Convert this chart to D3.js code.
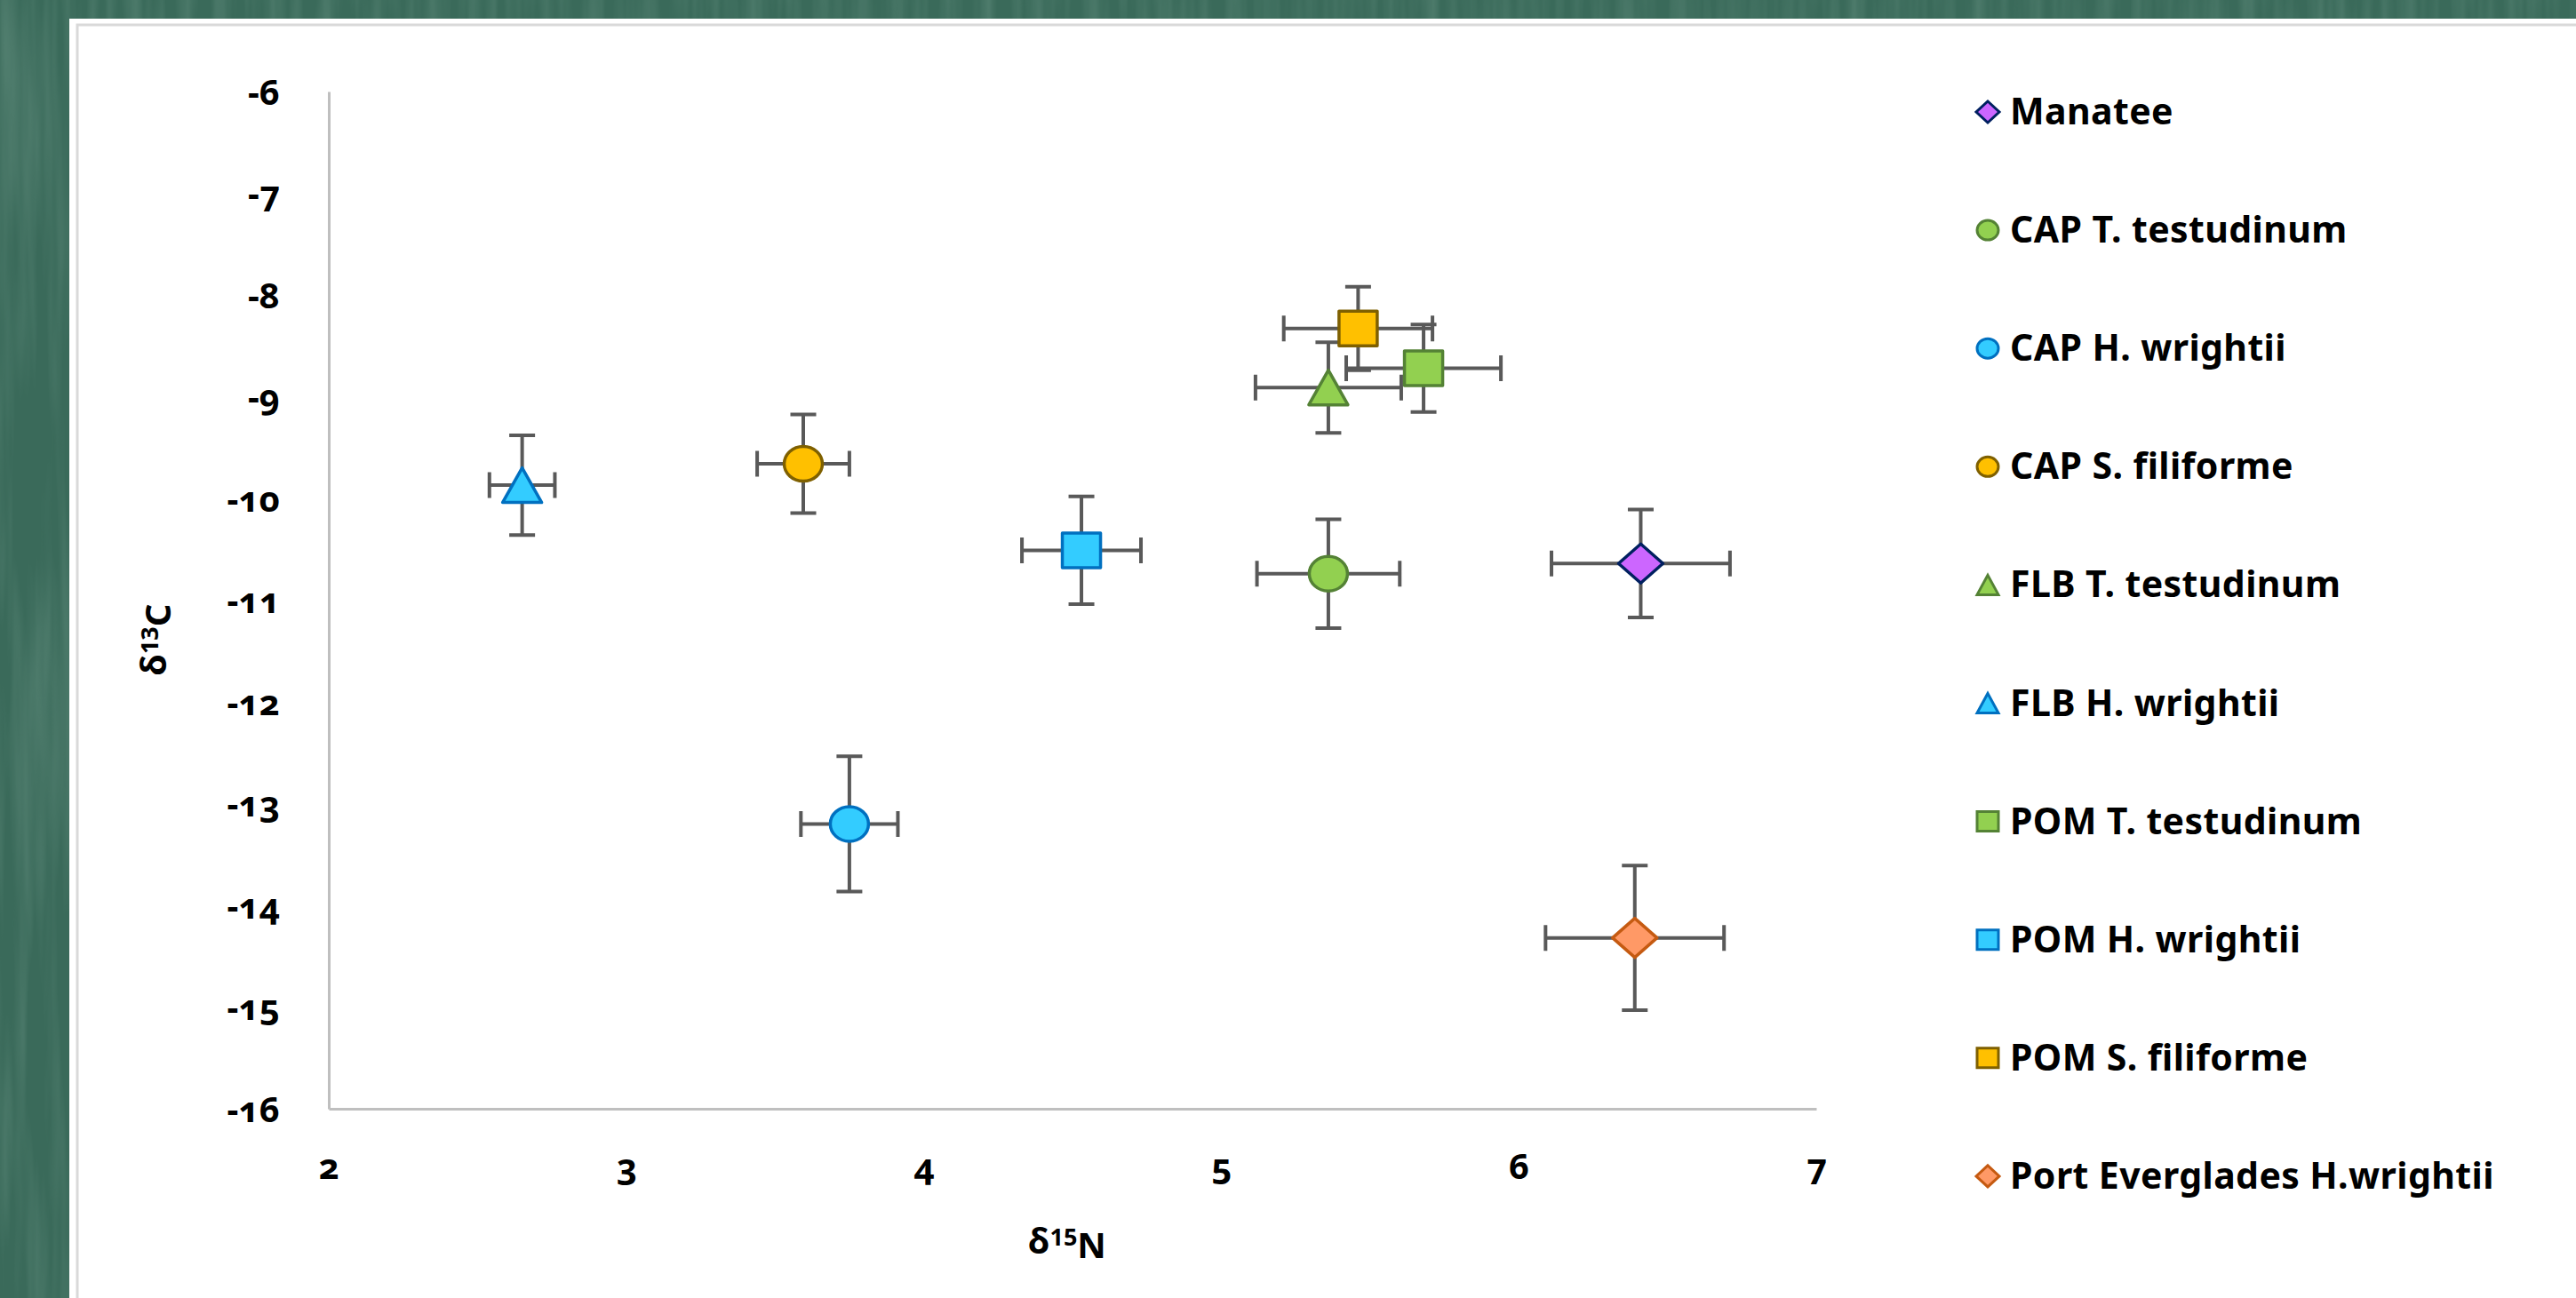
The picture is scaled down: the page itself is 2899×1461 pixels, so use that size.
<!DOCTYPE html>
<html>
<head>
<meta charset="utf-8">
<script src="https://cdn.jsdelivr.net/npm/d3@7"></script>
<style>
body { margin: 0; background: #3b6a5b; }
svg text { font-family: "Noto Sans", sans-serif; font-weight: bold; fill: #000; }
.tick text { font-feature-settings: "onum"; }
</style>
</head>
<body>
<svg id="chart" width="2899" height="1461"></svg>
<script>
// series
var names = ["Manatee", "CAP T. testudinum", "CAP H. wrightii", "CAP S. filiforme",
             "FLB T. testudinum", "FLB H. wrightii", "POM T. testudinum", "POM H. wrightii",
             "POM S. filiforme", "Port Everglades H.wrightii"];
var d15N   = [6.41, 5.36, 3.75, 3.595, 5.36, 2.65, 5.68, 4.53, 5.46, 6.39];
var d13C   = [-10.64, -10.74, -13.20, -9.66, -8.91, -9.87, -8.72, -10.51, -8.33, -14.32];
var errN   = [0.30, 0.24, 0.163, 0.155, 0.245, 0.11, 0.26, 0.20, 0.25, 0.30];
var errC   = [0.53, 0.535, 0.665, 0.485, 0.445, 0.49, 0.43, 0.53, 0.41, 0.71];
var shapes = ["diamond", "circle", "circle", "circle", "triangle", "triangle",
              "square", "square", "square", "diamond"];
var fills  = ["#cc66ff", "#92d050", "#33ccff", "#ffc000", "#92d050", "#33ccff",
              "#92d050", "#33ccff", "#ffc000", "#ff9966"];
var strokes = ["#002060", "#548235", "#0070c0", "#7f6000", "#548235", "#0070c0",
               "#548235", "#0070c0", "#7f6000", "#c55a11"];
var xTicks = [2, 3, 4, 5, 6, 7];
var yTicks = [-6, -7, -8, -9, -10, -11, -12, -13, -14, -15, -16];

var data = names.map(function (n, i) {
    return {name: n, x: d15N[i], y: d13C[i], ex: errN[i], ey: errC[i],
            shape: shapes[i], fill: fills[i], stroke: strokes[i]};
});

var svg = d3.select("#chart");

// textured green backdrop
var defs = svg.append("defs");
var f = defs.append("filter").attr("id", "tex").attr("x", 0).attr("y", 0).attr("width", 1).attr("height", 1);
f.append("feTurbulence").attr("type", "fractalNoise").attr("baseFrequency", "0.05 0.003")
    .attr("numOctaves", 3).attr("seed", 5);
f.append("feColorMatrix").attr("type", "matrix")
    .attr("values", "0 0 0 0 0.5  0 0 0 0 0.72  0 0 0 0 0.62  0.8 0 0 0 -0.3");
svg.append("rect").attr("width", 2899).attr("height", 1461).attr("fill", "#3a6a5a");
svg.append("rect").attr("width", 2899).attr("height", 1461).attr("filter", "url(#tex)").attr("opacity", 0.4);

// white slide panel
svg.append("rect").attr("x", 78).attr("y", 21).attr("width", 2900).attr("height", 1500).attr("fill", "#fff");
svg.append("rect").attr("x", 87).attr("y", 28).attr("width", 2900).attr("height", 1500)
    .attr("fill", "none").attr("stroke", "#d9d9d9").attr("stroke-width", 3);

var plot = {left: 370, right: 2044, top: 103, bottom: 1248};
var x = d3.scaleLinear().domain([2, 7]).range([plot.left, plot.right]);
var y = d3.scaleLinear().domain([-16, -6]).range([plot.bottom, plot.top]);

var plain = function (d) { return String(d); };
var yAxis = svg.append("g")
    .attr("transform", "translate(" + plot.left + ",0)")
    .call(d3.axisLeft(y).tickValues(yTicks).tickFormat(plain).tickSize(0).tickPadding(55));
var xAxis = svg.append("g")
    .attr("transform", "translate(0," + plot.bottom + ")")
    .call(d3.axisBottom(x).tickValues(xTicks).tickFormat(plain).tickSize(0).tickPadding(51));
[xAxis, yAxis].forEach(function (a) {
    a.attr("font-family", null).attr("font-size", null);
    a.select(".domain").attr("stroke", "#bfbfbf").attr("stroke-width", 3);
    a.selectAll(".tick text").style("font-size", "40px");
});
yAxis.selectAll(".tick text").attr("dy", "0.35em");

// axis titles
var yt = svg.append("text")
    .attr("transform", "translate(187,720) rotate(-90)")
    .attr("text-anchor", "middle")
    .style("font-size", "40px");
yt.append("tspan").text("δ");
yt.append("tspan").attr("dy", "-0.35em").style("font-size", "27px").text("13");
yt.append("tspan").attr("dy", "0.35em").text("C");

var xt = svg.append("text")
    .attr("x", 1201).attr("y", 1411)
    .attr("text-anchor", "middle")
    .style("font-size", "40px");
xt.append("tspan").text("δ");
xt.append("tspan").attr("dy", "-0.35em").style("font-size", "27px").text("15");
xt.append("tspan").attr("dy", "0.35em").text("N");

function markerPath(shape, w, h) {
    var a = w / 2, b = h / 2;
    if (shape === "diamond") return "M0," + (-b) + "L" + a + ",0L0," + b + "L" + (-a) + ",0Z";
    if (shape === "triangle") return "M0," + (-b) + "L" + a + "," + b + "L" + (-a) + "," + b + "Z";
    if (shape === "square") return "M" + (-a) + "," + (-b) + "H" + a + "V" + b + "H" + (-a) + "Z";
    return "M" + (-a) + ",0A" + a + "," + b + " 0 1,0 " + a + ",0A" + a + "," + b + " 0 1,0 " + (-a) + ",0Z";
}
var markSize = {diamond: [50, 44], triangle: [44, 39], square: [43, 39], circle: [43, 39]};

// error bars
var cap = 14.5;
var bars = svg.append("g").attr("stroke", "#595959").attr("stroke-width", 4).attr("fill", "none");
data.forEach(function (d) {
    var cx = x(d.x), cy = y(d.y);
    var x0 = x(d.x - d.ex), x1 = x(d.x + d.ex), y0 = y(d.y + d.ey), y1 = y(d.y - d.ey);
    bars.append("path").attr("d",
        "M" + x0 + "," + cy + "H" + x1 +
        "M" + x0 + "," + (cy - cap) + "V" + (cy + cap) +
        "M" + x1 + "," + (cy - cap) + "V" + (cy + cap) +
        "M" + cx + "," + y0 + "V" + y1 +
        "M" + (cx - cap) + "," + y0 + "H" + (cx + cap) +
        "M" + (cx - cap) + "," + y1 + "H" + (cx + cap));
});

// markers
svg.append("g").selectAll("path").data(data).join("path")
    .attr("transform", function (d) { return "translate(" + x(d.x) + "," + y(d.y) + ")"; })
    .attr("d", function (d) { return markerPath(d.shape, markSize[d.shape][0], markSize[d.shape][1]); })
    .attr("fill", function (d) { return d.fill; })
    .attr("stroke", function (d) { return d.stroke; })
    .attr("stroke-width", 3.5)
    .attr("stroke-linejoin", "round");

// legend
var legend = svg.append("g").attr("transform", "translate(2237,126)");
var rows = legend.selectAll("g").data(data).join("g")
    .attr("transform", function (d, i) { return "translate(0," + (i * 133.1) + ")"; });
rows.append("path")
    .attr("d", function (d) { return d.shape === "diamond" ? markerPath(d.shape, 26, 24) : markerPath(d.shape, 24, 22); })
    .attr("fill", function (d) { return d.fill; })
    .attr("stroke", function (d) { return d.stroke; })
    .attr("stroke-width", 3);
rows.append("text")
    .attr("x", 25).attr("y", 14)
    .style("font-size", "41px")
    .style("letter-spacing", "0.4px")
    .text(function (d) { return d.name; });
</script>
</body>
</html>
